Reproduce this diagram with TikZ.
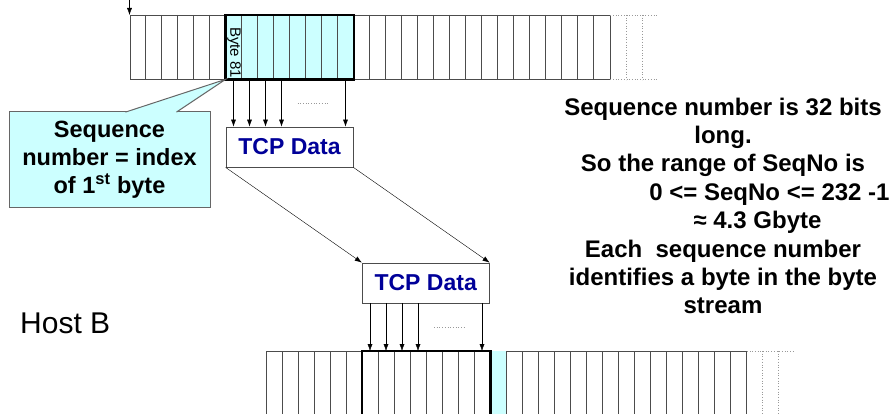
\documentclass[tikz,border=0pt]{standalone}
\usepackage{fontspec}
\setmainfont{Liberation Sans}
\usetikzlibrary{arrows.meta}
\definecolor{seqcyan}{RGB}{204,255,255}
\definecolor{tcpblue}{RGB}{0,0,153}

\begin{document}
\begin{tikzpicture}[x=1pt, y=-1pt, >={Latex[length=7pt,width=5pt]},
    cell/.style={draw=black!70, line width=0.8pt},
    ghost/.style={draw=black!40, dotted, line width=0.7pt},
    boldseg/.style={draw=black, line width=2.6pt},
    buffer/.style={cell, minimum width=480pt, minimum height=64pt, inner sep=0pt, anchor=north west},
    segment/.style={minimum width=128pt, minimum height=64pt, inner sep=0pt, anchor=north west},
    tcpbox/.style={cell, fill=white, minimum width=127pt, minimum height=40pt, inner sep=0pt,
        font=\fontsize{23}{27}\selectfont\bfseries, text=tcpblue}]
    \clip (0,0) rectangle (893,414);

    % Byte stream of the sender
    \node[buffer] (buf1) at (129.5,15) {};
    \node[segment, fill=seqcyan] (seg1) at ([xshift=96pt]buf1.north west) {};
    \foreach \i in {1,...,29}
        \draw[cell] ([xshift=16*\i]buf1.north west) -- ([xshift=16*\i]buf1.south west);
    \draw[ghost] (buf1.north east) -- ++(48,0);
    \draw[ghost] (buf1.south east) -- ++(48,0);
    \foreach \i in {1,2}
        \draw[ghost] ([xshift=16*\i]buf1.north east) -- ([xshift=16*\i]buf1.south east);
    \draw[boldseg] (seg1.north west) rectangle (seg1.south east);
    \node[anchor=west, rotate=-90, inner sep=0pt, font=\fontsize{15}{18}\selectfont] (byte81)
        at ([xshift=8.5pt, yshift=-12pt]seg1.north west) {Byte 81};
    \coordinate (src) at (129.5,0);
    \draw[->] (src) -- (buf1.north west);

    % Segment
    \node[tcpbox] (data1) at (289.5,147) {TCP Data};
    \foreach \i in {0,1,2,3,7}
        \draw[->] ([xshift=8+16*\i]seg1.south west) -- ([xshift=8+16*\i]seg1.south west |- data1.north);
    \draw[ghost] ([xshift=72pt, yshift=-24pt]seg1.south west) -- ++(31,0);

    \node[tcpbox] (data2) at (425.7,283) {TCP Data};
    \draw[->] (data1.south west) -- (data2.north west);
    \draw[->] (data1.south east) -- (data2.north east);

    % Byte stream of the receiver
    \node[buffer] (buf2) at (266,351) {};
    \node[segment] (seg2) at ([xshift=96pt]buf2.north west) {};
    \fill[seqcyan] (seg2.north east) rectangle ([xshift=16pt]seg2.south east);
    \foreach \i in {1,...,29}
        \draw[cell] ([xshift=16*\i]buf2.north west) -- ([xshift=16*\i]buf2.south west);
    \draw[ghost] (buf2.north east) -- ++(48,0);
    \draw[ghost] (buf2.south east) -- ++(48,0);
    \foreach \i in {1,2}
        \draw[ghost] ([xshift=16*\i]buf2.north east) -- ([xshift=16*\i]buf2.south east);
    \draw[boldseg] (seg2.north west) rectangle (seg2.south east);
    \foreach \i in {0,1,2,3,7}
        \draw[->] ([xshift=8+16*\i]seg2.north west |- data2.south) -- ([xshift=8+16*\i]seg2.north west);
    \draw[ghost] ([xshift=72pt, yshift=24pt]seg2.north west) -- ++(31,0);

    % Callout
    \node[draw=black!60, line width=1pt, fill=seqcyan, minimum width=201pt, minimum height=95pt,
        inner sep=0pt, align=center, font=\fontsize{23.5}{28}\selectfont\bfseries] (note)
        at (109.5,159.5) {Sequence\\number = index\\of 1\textsuperscript{st} byte};
    \filldraw[draw=black!60, line width=1pt, fill=seqcyan]
        ([xshift=117pt, yshift=-0.6pt]note.north west) -- (seg1.south west)
        -- ([xshift=168pt, yshift=-0.6pt]note.north west);

    \node[anchor=north, align=center, inner sep=0pt, font=\fontsize{24}{28.4}\selectfont\bfseries] (info)
        at (723,97.5) {Sequence number is 32 bits\\long.\\So the range of SeqNo is\\
        \hspace*{93pt}0 <= SeqNo <= 232 -1\\\hspace*{69pt}≈ 4.3 Gbyte\\
        Each~ sequence number\\identifies a byte in the byte\\stream};

    \node[anchor=base west, inner sep=0pt, font=\fontsize{30}{36}\selectfont] (hostB) at (20,333) {Host B};
\end{tikzpicture}
\end{document}
